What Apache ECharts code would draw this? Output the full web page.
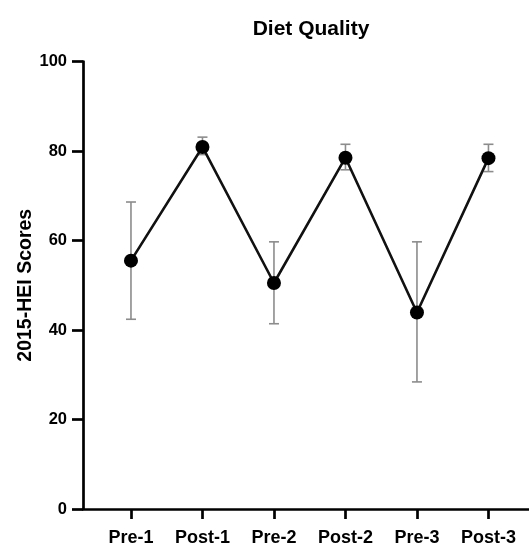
<!DOCTYPE html>
<html>
<head>
<meta charset="utf-8">
<script src="https://cdn.jsdelivr.net/npm/echarts@6/dist/echarts.min.js"></script>
<style>
html,body{margin:0;padding:0;background:#fff;}
#chart{width:529px;height:547px;}
</style>
</head>
<body>
<div id="chart"></div>
<script>
const categories = ['Pre-1', 'Post-1', 'Pre-2', 'Post-2', 'Pre-3', 'Post-3'];
const means = [55.5, 80.9, 50.5, 78.5, 43.9, 78.4];
const upper = [68.6, 83.1, 59.7, 81.5, 59.7, 81.5];
const lower = [42.4, 79.2, 41.4, 75.8, 28.4, 75.4];
const yTicks = [0, 20, 40, 60, 80, 100];

const FONT = '"Liberation Sans", Arial, Helvetica, sans-serif';
const lineData = means.map((v, i) => [i, v]);
const errData = means.map((v, i) => [i, lower[i], upper[i]]);
const catIdx = categories.map((c, i) => i);

const chart = echarts.init(document.getElementById('chart'), null, {renderer: 'canvas'});
chart.setOption({
  animation: false,
  backgroundColor: '#fff',
  title: {
    text: 'Diet Quality',
    left: 306, top: 14, textAlign: 'center',
    textStyle: {fontFamily: FONT, fontWeight: 'bold', fontSize: 21, color: '#000'}
  },
  grid: {left: 83, right: 0, top: 61.5, bottom: 33, containLabel: false},
  xAxis: {
    type: 'value',
    min: -0.671, max: 5.567,
    splitLine: {show: false},
    axisLine: {show: true, onZero: false, lineStyle: {color: '#000', width: 2.7}},
    axisTick: {show: true, customValues: catIdx, length: 10, lineStyle: {color: '#000', width: 2.7}},
    axisLabel: {
      show: true, customValues: catIdx, margin: 20,
      fontFamily: FONT, fontWeight: 'bold', fontSize: 18, color: '#000',
      formatter: v => categories[Math.round(v)]
    }
  },
  yAxis: {
    type: 'value', min: 0, max: 100, interval: 20,
    name: '2015-HEI Scores', nameLocation: 'middle', nameGap: 47, nameRotate: 90,
    nameMoveOverlap: false,
    nameTextStyle: {fontFamily: FONT, fontWeight: 'bold', fontSize: 19.5, color: '#000'},
    splitLine: {show: false},
    axisLine: {show: true, onZero: false, lineStyle: {color: '#000', width: 2.7}},
    axisTick: {show: true, length: 11, lineStyle: {color: '#000', width: 2.7}},
    axisLabel: {margin: 16, fontFamily: FONT, fontWeight: 'bold', fontSize: 16.5, color: '#000',
      formatter: v => yTicks.includes(v) ? String(v) : ''}
  },
  series: [
    {
      type: 'custom',
      z: 1,
      data: errData,
      renderItem: function (params, api) {
        const x = api.value(0);
        const lo = api.coord([x, api.value(1)]);
        const hi = api.coord([x, api.value(2)]);
        const hw = 5;
        const style = {stroke: '#8c8c8c', lineWidth: 1.6, fill: null};
        return {
          type: 'group',
          children: [
            {type: 'line', shape: {x1: lo[0], y1: lo[1], x2: hi[0], y2: hi[1]}, style},
            {type: 'line', shape: {x1: lo[0] - hw, y1: lo[1], x2: lo[0] + hw, y2: lo[1]}, style},
            {type: 'line', shape: {x1: hi[0] - hw, y1: hi[1], x2: hi[0] + hw, y2: hi[1]}, style}
          ]
        };
      }
    },
    {
      type: 'line',
      z: 3,
      data: lineData,
      symbol: 'circle',
      symbolSize: 14,
      lineStyle: {color: '#111', width: 2.6},
      itemStyle: {color: '#000'}
    }
  ]
});
</script>
</body>
</html>
